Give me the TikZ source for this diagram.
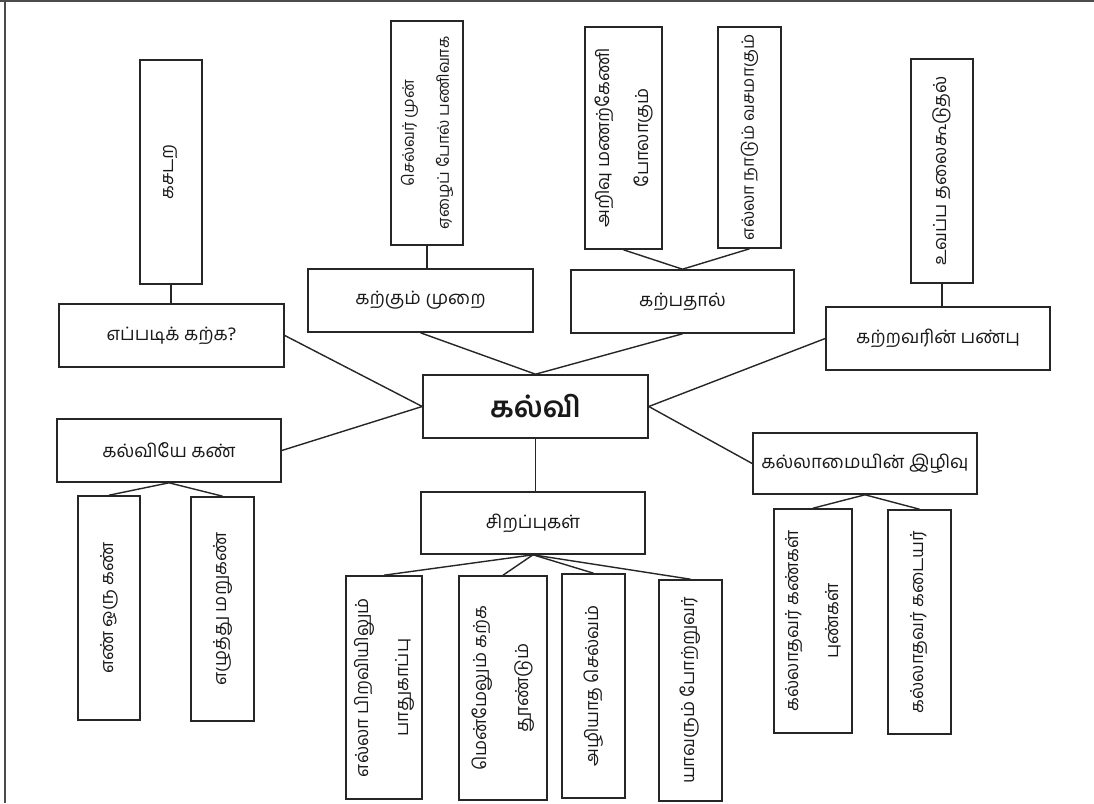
\documentclass[tikz,border=0pt]{standalone}
\usepackage{fontspec}
\newfontfamily\tamil[Script=Tamil]{Hind Madurai}
\begin{document}
\begin{tikzpicture}[x=1pt,y=-1pt,
  box/.style={draw=black!85,line width=1.6pt,inner sep=0pt,fill=white},
  htext/.style={font=\tamil\fontsize{18.5}{22}\selectfont,text=black!90},
  vtext/.style={font=\tamil\fontsize{18}{42}\selectfont,text=black!90,rotate=90,align=center},
  conn/.style={draw=black!85,line width=1.4pt}]
\useasboundingbox (0,0) rectangle (1094,803);
\fill[white] (0,0) rectangle (1094,803);
% frame
\draw[black!70,line width=1.6pt] (0,1) -- (1094,1);
\draw[black!70,line width=1.6pt] (5,0) -- (5,803);
% horizontal boxes
\node[box,minimum width=225,minimum height=63] (kalvi) at (535.5,406.5) {};
\node[htext,font=\tamil\bfseries\fontsize{29}{32}\selectfont] (tkalvi) at (kalvi) {கல்வி};
\node[box,minimum width=225,minimum height=63] (eppadi) at (171.5,335.5) {};
\node[htext] (teppadi) at (eppadi) {எப்படிக் கற்க?};
\node[box,minimum width=225,minimum height=63] (karkum) at (420.5,300.5) {};
\node[htext] (tkarkum) at (karkum) {கற்கும் முறை};
\node[box,minimum width=223,minimum height=63] (karpathal) at (682.5,301.5) {};
\node[htext] (tkarpathal) at (karpathal) {கற்பதால்};
\node[box,minimum width=224,minimum height=63] (katravarin) at (938,338.5) {};
\node[htext] (tkatravarin) at (katravarin) {கற்றவரின் பண்பு};
\node[box,minimum width=224,minimum height=63] (kalviye) at (169,450.5) {};
\node[htext] (tkalviye) at (kalviye) {கல்வியே கண்};
\node[box,minimum width=224,minimum height=62] (sirappu) at (533,523) {};
\node[htext] (tsirappu) at (sirappu) {சிறப்புகள்};
\node[box,minimum width=224,minimum height=61] (kallamai) at (865,463.5) {};
\node[htext] (tkallamai) at (kallamai) {கல்லாமையின் இழிவு};
% vertical boxes
\node[box,minimum width=62,minimum height=224] (kasadara) at (171,172) {};
\node[vtext] (tkasadara) at (kasadara) {கசடற};
\node[box,minimum width=72,minimum height=224] (selvar) at (427,133) {};
\node[vtext,font=\tamil\fontsize{16}{35}\selectfont] (tselvar) at (selvar) {செல்வர் முன்\\ஏழைப் போல் பணிவாக};
\node[box,minimum width=77,minimum height=222] (arivu) at (623.5,138) {};
\node[vtext,font=\tamil\fontsize{18}{39}\selectfont] (tarivu) at (arivu) {அறிவு மணற்கேணி\\போலாகும்};
\node[box,minimum width=63,minimum height=221] (ellanadum) at (749.5,137.5) {};
\node[vtext,font=\tamil\fontsize{17}{40}\selectfont] (tellanadum) at (ellanadum) {எல்லா நாடும் வசமாகும்};
\node[box,minimum width=62,minimum height=224] (ulappa) at (942,171) {};
\node[vtext] (tulappa) at (ulappa) {உவப்ப தலைகூடுதல்};
\node[box,minimum width=62,minimum height=224] (en) at (109,608) {};
\node[vtext] (ten) at (en) {எண் ஒரு கண்};
\node[box,minimum width=63,minimum height=224] (ezhuthu) at (222.5,609) {};
\node[vtext] (tezhuthu) at (ezhuthu) {எழுத்து மறுகண்};
\node[box,minimum width=76,minimum height=223] (s1) at (384,687.5) {};
\node[vtext,font=\tamil\fontsize{18}{40}\selectfont] (ts1) at (s1) {எல்லா பிறவியிலும்\\பாதுகாப்பு};
\node[box,minimum width=88,minimum height=224] (s2) at (503,688) {};
\node[vtext] (ts2) at (s2) {மென்மேலும் கற்க\\தூண்டும்};
\node[box,minimum width=63,minimum height=224] (s3) at (593.5,686) {};
\node[vtext] (ts3) at (s3) {அழியாத செல்வம்};
\node[box,minimum width=63,minimum height=221] (s4) at (690.5,690.5) {};
\node[vtext] (ts4) at (s4) {யாவரும் போற்றுவர்};
\node[box,minimum width=78,minimum height=224] (k1) at (813,621) {};
\node[vtext,font=\tamil\fontsize{18}{40}\selectfont] (tk1) at (k1) {கல்லாதவர் கண்கள்\\புண்கள்};
\node[box,minimum width=63,minimum height=224] (k2) at (919.5,622) {};
\node[vtext] (tk2) at (k2) {கல்லாதவர் கடையர்};
% connectors
\draw[conn] (kasadara.south) -- (kasadara.south |- eppadi.north);
\draw[conn] (selvar.south) -- (selvar.south |- karkum.north);
\draw[conn] (ulappa.south) -- (ulappa.south |- katravarin.north);
\draw[conn] (karpathal.north) -- (arivu.south);
\draw[conn] (karpathal.north) -- (ellanadum.south);
\draw[conn] (karkum.south) -- (kalvi.north);
\draw[conn] (karpathal.south) -- (kalvi.north);
\draw[conn] (eppadi.east) -- (kalvi.west);
\draw[conn] (kalviye.east) -- (kalvi.west);
\draw[conn] (katravarin.west) -- (kalvi.east);
\draw[conn] (kallamai.west) -- (kalvi.east);
\draw[conn] (kalvi.south) -- (kalvi.south |- sirappu.north);
\draw[conn] (sirappu.south) -- (s1.north);
\draw[conn] (sirappu.south) -- (s2.north);
\draw[conn] (sirappu.south) -- (s3.north);
\draw[conn] (sirappu.south) -- (s4.north);
\draw[conn] (kalviye.south) -- (en.north);
\draw[conn] (kalviye.south) -- (ezhuthu.north);
\draw[conn] (kallamai.south) -- (k1.north);
\draw[conn] (kallamai.south) -- (k2.north);
\end{tikzpicture}
\end{document}
